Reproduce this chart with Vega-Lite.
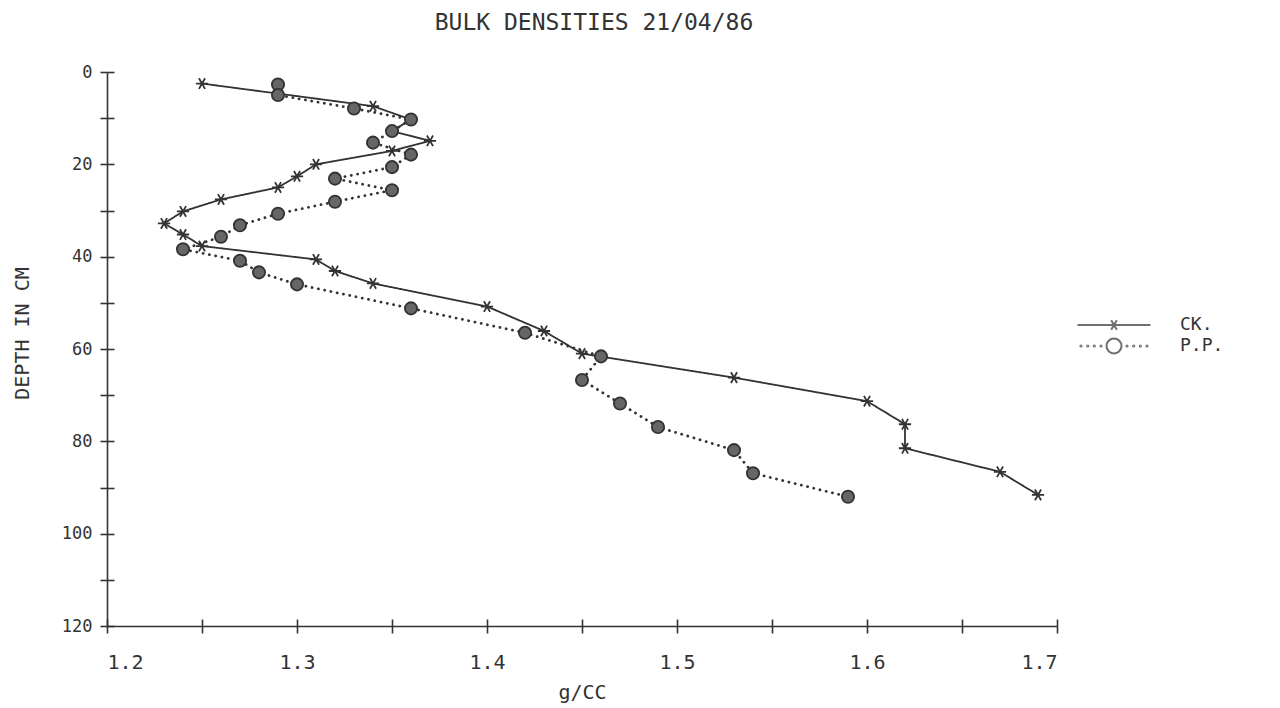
{
  "$schema": "https://vega.github.io/schema/vega-lite/v6.json",
  "width": 950,
  "height": 554,
  "autosize": {"type": "none"},
  "padding": {"left": 107, "top": 72, "right": 223, "bottom": 82},
  "background": "white",
  "title": {"text": "BULK DENSITIES 21/04/86", "font": "DejaVu Sans Mono", "fontSize": 23, "fontWeight": "normal", "color": "#333", "anchor": "middle", "dx": 12, "offset": 28},
  "config": {
    "view": {"stroke": null},
    "axis": {"domainColor": "#333", "domainWidth": 1.6, "tickColor": "#333", "tickWidth": 1.6, "grid": false, "labelColor": "#333", "labelFont": "DejaVu Sans Mono", "titleFont": "DejaVu Sans Mono", "titleFontWeight": "normal", "titleColor": "#333"}
  },
  "data": {"values": [
    {"series": "CK.", "density": 1.25, "depth": 2.5},
    {"series": "CK.", "density": 1.34, "depth": 7.4},
    {"series": "CK.", "density": 1.36, "depth": 10.3},
    {"series": "CK.", "density": 1.35, "depth": 12.8},
    {"series": "CK.", "density": 1.37, "depth": 14.9},
    {"series": "CK.", "density": 1.35, "depth": 17.1},
    {"series": "CK.", "density": 1.31, "depth": 20.0},
    {"series": "CK.", "density": 1.30, "depth": 22.6},
    {"series": "CK.", "density": 1.29, "depth": 25.0},
    {"series": "CK.", "density": 1.26, "depth": 27.6},
    {"series": "CK.", "density": 1.24, "depth": 30.2},
    {"series": "CK.", "density": 1.23, "depth": 32.8},
    {"series": "CK.", "density": 1.24, "depth": 35.2},
    {"series": "CK.", "density": 1.25, "depth": 37.7},
    {"series": "CK.", "density": 1.31, "depth": 40.6},
    {"series": "CK.", "density": 1.32, "depth": 43.1},
    {"series": "CK.", "density": 1.34, "depth": 45.8},
    {"series": "CK.", "density": 1.40, "depth": 50.8},
    {"series": "CK.", "density": 1.43, "depth": 56.1},
    {"series": "CK.", "density": 1.45, "depth": 61.0},
    {"series": "CK.", "density": 1.53, "depth": 66.2},
    {"series": "CK.", "density": 1.60, "depth": 71.3},
    {"series": "CK.", "density": 1.62, "depth": 76.3},
    {"series": "CK.", "density": 1.62, "depth": 81.5},
    {"series": "CK.", "density": 1.67, "depth": 86.6},
    {"series": "CK.", "density": 1.69, "depth": 91.6},
    {"series": "P.P.", "density": 1.29, "depth": 2.7},
    {"series": "P.P.", "density": 1.29, "depth": 5.0},
    {"series": "P.P.", "density": 1.33, "depth": 7.9},
    {"series": "P.P.", "density": 1.36, "depth": 10.3},
    {"series": "P.P.", "density": 1.35, "depth": 12.8},
    {"series": "P.P.", "density": 1.34, "depth": 15.3},
    {"series": "P.P.", "density": 1.36, "depth": 17.9},
    {"series": "P.P.", "density": 1.35, "depth": 20.6},
    {"series": "P.P.", "density": 1.32, "depth": 23.1},
    {"series": "P.P.", "density": 1.35, "depth": 25.6},
    {"series": "P.P.", "density": 1.32, "depth": 28.1},
    {"series": "P.P.", "density": 1.29, "depth": 30.7},
    {"series": "P.P.", "density": 1.27, "depth": 33.2},
    {"series": "P.P.", "density": 1.26, "depth": 35.7},
    {"series": "P.P.", "density": 1.24, "depth": 38.4},
    {"series": "P.P.", "density": 1.27, "depth": 40.9},
    {"series": "P.P.", "density": 1.28, "depth": 43.4},
    {"series": "P.P.", "density": 1.30, "depth": 46.0},
    {"series": "P.P.", "density": 1.36, "depth": 51.2},
    {"series": "P.P.", "density": 1.42, "depth": 56.5},
    {"series": "P.P.", "density": 1.46, "depth": 61.6},
    {"series": "P.P.", "density": 1.45, "depth": 66.7},
    {"series": "P.P.", "density": 1.47, "depth": 71.8},
    {"series": "P.P.", "density": 1.49, "depth": 76.9},
    {"series": "P.P.", "density": 1.53, "depth": 81.9},
    {"series": "P.P.", "density": 1.54, "depth": 86.9},
    {"series": "P.P.", "density": 1.59, "depth": 92.0}
  ]},
  "layer": [
    {
      "layer": [
        {
          "mark": {"type": "line", "color": "#333", "strokeCap": "round"},
          "encoding": {
            "x": {"field": "density", "type": "quantitative", "scale": {"domain": [1.2, 1.7], "nice": false, "zero": false},
              "axis": {"values": [1.2, 1.25, 1.3, 1.35, 1.4, 1.45, 1.5, 1.55, 1.6, 1.65, 1.7], "labelExpr": "round(datum.value*100) % 10 == 0 ? format(datum.value, '.1f') : ''", "tickSize": 7, "labelFontSize": 20, "labelPadding": 19, "title": "g/CC", "titleFontSize": 20, "titlePadding": 10}},
            "y": {"field": "depth", "type": "quantitative", "scale": {"domain": [0, 120], "nice": false, "reverse": true},
              "axis": {"values": [0, 10, 20, 30, 40, 50, 60, 70, 80, 90, 100, 110, 120], "labelExpr": "datum.value % 20 == 0 ? datum.label : ''", "tickSize": 7, "labelFontSize": 17, "labelPadding": 8, "title": "DEPTH IN CM", "titleFontSize": 20, "titleX": -75, "titleY": 261}},
            "strokeDash": {"field": "series", "type": "nominal", "scale": {"domain": ["CK.", "P.P."], "range": [[1, 0], [0.1, 6.3]]}, "legend": null},
            "strokeWidth": {"field": "series", "type": "nominal", "scale": {"domain": ["CK.", "P.P."], "range": [1.8, 2.8]}, "legend": null},
            "order": {"field": "depth", "type": "quantitative"}
          }
        },
        {
          "mark": {"type": "point", "filled": false, "stroke": "#333", "fill": "#666", "strokeWidth": 1.8, "size": 150, "opacity": 1},
          "encoding": {
            "x": {"field": "density", "type": "quantitative"},
            "y": {"field": "depth", "type": "quantitative"},
            "shape": {"field": "series", "type": "nominal", "scale": {"domain": ["CK.", "P.P."], "range": ["M-1,0L1,0M-0.5,-0.87L0.5,0.87M-0.5,0.87L0.5,-0.87", "circle"]}, "legend": null}
          }
        }
      ]
    },
    {
      "transform": [{"filter": "datum.depth < 0"}],
      "mark": {"type": "point", "filled": false, "color": "#333", "strokeWidth": 2},
      "encoding": {
        "x": {"field": "density", "type": "quantitative", "scale": {"domain": [1.2, 1.7], "nice": false, "zero": false},
          "axis": {"orient": "bottom", "values": [1.2, 1.25, 1.3, 1.35, 1.4, 1.45, 1.5, 1.55, 1.6, 1.65, 1.7], "tickSize": 7, "offset": -7, "labels": false, "domain": false, "title": null}},
        "y": {"field": "depth", "type": "quantitative", "scale": {"domain": [0, 120], "nice": false, "reverse": true},
          "axis": {"orient": "left", "values": [0, 10, 20, 30, 40, 50, 60, 70, 80, 90, 100, 110, 120], "tickSize": 7, "offset": -7, "labels": false, "domain": false, "title": null}},
        "shape": {"field": "series", "type": "nominal",
          "scale": {"domain": ["CK.", "P.P."], "range": [
            "M-3.65,0H3.65M-0.28,-0.48L0.28,0.48M-0.28,0.48L0.28,-0.48",
            "M0.75,0A0.75,0.75 0 1,1 -0.75,0A0.75,0.75 0 1,1 0.75,0ZM-3.24,0A0.06,0.06 0 1,1 -3.36,0A0.06,0.06 0 1,1 -3.24,0ZM-2.57,0A0.06,0.06 0 1,1 -2.69,0A0.06,0.06 0 1,1 -2.57,0ZM-1.91,0A0.06,0.06 0 1,1 -2.03,0A0.06,0.06 0 1,1 -1.91,0ZM-1.24,0A0.06,0.06 0 1,1 -1.36,0A0.06,0.06 0 1,1 -1.24,0ZM1.36,0A0.06,0.06 0 1,1 1.24,0A0.06,0.06 0 1,1 1.36,0ZM2.03,0A0.06,0.06 0 1,1 1.91,0A0.06,0.06 0 1,1 2.03,0ZM2.69,0A0.06,0.06 0 1,1 2.57,0A0.06,0.06 0 1,1 2.69,0ZM3.36,0A0.06,0.06 0 1,1 3.24,0A0.06,0.06 0 1,1 3.36,0Z"
          ]},
          "legend": {"title": null, "orient": "none", "legendX": 996, "legendY": 242, "padding": 0, "symbolSize": 400, "symbolStrokeWidth": 2, "symbolStrokeColor": "#333", "symbolFillColor": "transparent", "labelFont": "DejaVu Sans Mono", "labelFontSize": 18, "labelColor": "#333", "labelOffset": 55, "rowPadding": 0}
        }
      }
    }
  ],
  "resolve": {"scale": {"x": "independent", "y": "independent", "shape": "independent", "strokeDash": "independent", "strokeWidth": "independent"}, "axis": {"x": "independent", "y": "independent"}}
}
